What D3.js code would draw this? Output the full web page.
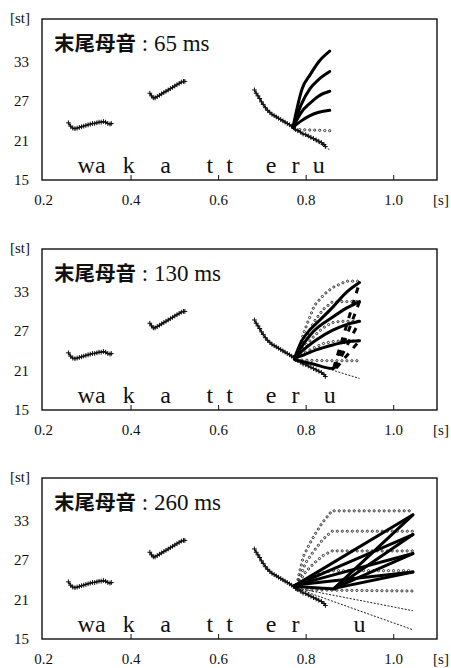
<!DOCTYPE html>
<html>
<head>
<meta charset="utf-8">
<script src="https://cdn.jsdelivr.net/npm/d3@7"></script>
<style>
  body { margin: 0; background: #fff; }
  svg text { fill: #111; }
</style>
</head>
<body>
<div id="chart"></div>
<script>
const width = 451;
const height = 668;

const xTicks = [0.2, 0.4, 0.6, 0.8, 1.0];
const yTicks = [15, 21, 27, 33];
const durations = ["65 ms", "130 ms", "260 ms"];
const phonemes = ["wa", "k", "a", "t", "t", "e", "r", "u"];
const phonemeTimes = [0.311, 0.396, 0.48, 0.581, 0.626, 0.721, 0.777];
const uTimes = [0.83, 0.855, 0.923];

// natural F0 contour (crosses), shared by the three panels
const naturalWa = [[0.258,23.7],[0.263,23.2],[0.268,22.9],[0.273,22.8],[0.278,22.9],[0.283,23.0],[0.288,23.1],[0.293,23.2],[0.298,23.3],[0.303,23.4],[0.308,23.5],[0.313,23.6],[0.318,23.6],[0.323,23.7],[0.328,23.8],[0.333,23.8],[0.338,23.9],[0.343,23.8],[0.348,23.6],[0.353,23.5],[0.356,23.6]];
const naturalA = [[0.444,28.2],[0.448,27.8],[0.452,27.5],[0.456,27.5],[0.461,27.7],[0.466,27.9],[0.471,28.1],[0.476,28.3],[0.481,28.5],[0.486,28.7],[0.491,28.9],[0.496,29.1],[0.501,29.3],[0.506,29.5],[0.511,29.7],[0.516,29.9],[0.521,30.0],[0.524,30.0]];
const naturalEr = [[0.683,28.7],[0.687,28.2],[0.691,27.8],[0.695,27.4],[0.699,26.9],[0.703,26.5],[0.708,26.0],[0.713,25.6],[0.718,25.3],[0.723,25.0],[0.728,24.8],[0.733,24.6],[0.738,24.4],[0.743,24.2],[0.748,24.0],[0.753,23.8],[0.758,23.6],[0.763,23.4],[0.768,23.2],[0.772,23.0]];
const naturalU = [[0.772,23.0],[0.777,22.7],[0.782,22.5],[0.788,22.3],[0.794,22.0],[0.8,21.9],[0.806,21.7],[0.812,21.5],[0.818,21.3],[0.824,21.1],[0.83,20.9],[0.836,20.7],[0.842,20.4],[0.845,20.1]];

// 65 ms
const thick65 = [
  [[0.771,23.0],[0.792,28.9],[0.81,31.0],[0.83,33.0],[0.855,34.6]],
  [[0.771,23.0],[0.79,26.5],[0.81,28.9],[0.83,30.3],[0.855,31.5]],
  [[0.771,23.0],[0.79,25.3],[0.81,26.7],[0.83,27.8],[0.855,28.5]],
  [[0.771,23.0],[0.79,24.0],[0.81,24.8],[0.83,25.3],[0.855,25.6]]
];
const dotted65 = [
  [[0.775,22.7],[0.815,22.6],[0.855,22.5]]
];
const falling65 = [
  [[0.775,22.8],[0.855,19.6]]
];

// 130 ms
const thick130 = [
  [[0.775,23.0],[0.79,25.4],[0.809,27.15],[0.832,28.65],[0.862,30.65],[0.893,32.9],[0.923,34.4]],
  [[0.775,23.0],[0.786,24.15],[0.817,26.9],[0.862,29.15],[0.893,30.5],[0.923,31.5]],
  [[0.775,23.0],[0.786,23.65],[0.824,25.65],[0.862,27.15],[0.893,28.0],[0.923,28.5]],
  [[0.775,23.0],[0.786,23.15],[0.824,24.15],[0.862,24.9],[0.893,25.4],[0.923,25.55]],
  [[0.775,22.65],[0.817,22.0],[0.862,21.3],[0.87,21.9]]
];
const dashed130 = [
  [[0.864,21.4],[0.923,34.4]],
  [[0.866,21.4],[0.923,31.5]],
  [[0.868,21.4],[0.923,28.5]],
  [[0.87,21.4],[0.923,25.55]]
];
const dotted130 = [
  [[0.78,23.3],[0.794,26.4],[0.805,28.4],[0.82,30.9],[0.843,32.65],[0.862,33.65],[0.893,34.6],[0.923,34.6]],
  [[0.78,23.2],[0.8,26.0],[0.82,28.5],[0.84,30.3],[0.86,31.4],[0.88,31.5],[0.923,31.5]],
  [[0.78,23.2],[0.8,24.8],[0.82,26.3],[0.84,27.5],[0.86,28.3],[0.88,28.5],[0.923,28.5]],
  [[0.78,23.0],[0.8,23.8],[0.82,24.5],[0.84,25.1],[0.86,25.4],[0.88,25.5],[0.923,25.5]],
  [[0.78,22.6],[0.85,22.5],[0.923,22.5]]
];
const falling130 = [
  [[0.775,22.8],[0.85,21.3],[0.923,19.8]]
];

// 260 ms
const thick260 = [
  [[0.777,23.2],[1.045,33.9]],
  [[0.777,23.2],[1.045,30.9]],
  [[0.777,23.2],[1.045,28.0]],
  [[0.777,23.2],[1.045,25.2]],
  [[0.777,23.0],[0.867,22.6]],
  [[0.865,22.7],[1.045,33.9]],
  [[0.865,22.7],[1.045,30.9]],
  [[0.865,22.7],[1.045,28.0]],
  [[0.865,22.7],[1.045,25.2]]
];
const dotted260 = [
  [[0.78,23.3],[0.785,24.9],[0.795,27.6],[0.81,29.6],[0.822,31.0],[0.837,32.6],[0.86,34.5],[1.045,34.5]],
  [[0.78,23.3],[0.8,26.6],[0.82,28.5],[0.84,30.2],[0.86,31.4],[1.045,31.4]],
  [[0.78,23.2],[0.8,25.2],[0.82,26.6],[0.84,27.7],[0.86,28.4],[1.045,28.4]],
  [[0.78,23.1],[0.8,23.9],[0.82,24.6],[0.84,25.1],[0.86,25.4],[1.045,25.4]],
  [[0.78,22.5],[0.9,22.4],[1.045,22.3]]
];
const falling260 = [
  [[0.775,22.8],[1.045,19.3]],
  [[0.775,22.8],[1.045,16.4]]
];

const panels = [
  { top: 19, thick: thick65, dashed: [], dotted: dotted65, falling: falling65 },
  { top: 249, thick: thick130, dashed: dashed130, dotted: dotted130, falling: falling130 },
  { top: 478, thick: thick260, dashed: [], dotted: dotted260, falling: falling260 }
];

const boxLeft = 42;
const boxRight = 437;
const boxHeight = 161;

const svg = d3.select("#chart")
  .append("svg")
  .attr("width", width)
  .attr("height", height);

const x = d3.scaleLinear().domain([0.2, 1.1]).range([43, boxRight]);

panels.forEach((p, i) => {
  const y = d3.scaleLinear().domain([15, 39.5]).range([p.top + boxHeight, p.top]);
  const line = d3.line().x(d => x(d[0])).y(d => y(d[1]));
  const g = svg.append("g");

  // frame
  g.append("rect")
    .attr("x", boxLeft)
    .attr("y", p.top)
    .attr("width", boxRight - boxLeft)
    .attr("height", boxHeight)
    .attr("fill", "none")
    .attr("stroke", "#111")
    .attr("stroke-width", 1.4);

  // x axis: inward ticks, labels below
  const xAxis = g.append("g")
    .attr("transform", `translate(0,${p.top + boxHeight})`)
    .call(d3.axisBottom(x).tickValues(xTicks).tickFormat(d3.format(".1f"))
      .tickSizeInner(-5).tickSizeOuter(0).tickPadding(14));
  xAxis.select(".domain").remove();
  xAxis.selectAll(".tick line").attr("stroke", "#111").filter(d => d === 0.2).remove();
  xAxis.selectAll(".tick text")
    .attr("font-family", "Liberation Serif")
    .attr("font-size", 15);

  const yAxis = g.append("g")
    .attr("transform", `translate(${boxLeft},0)`)
    .call(d3.axisLeft(y).tickValues(yTicks).tickSize(0).tickPadding(13));
  yAxis.select(".domain").remove();
  yAxis.selectAll(".tick text")
    .attr("font-family", "Liberation Serif")
    .attr("font-size", 15);

  g.append("text")
    .attr("x", 20).attr("y", p.top + 4)
    .attr("text-anchor", "middle")
    .attr("font-family", "Liberation Serif")
    .attr("font-size", 15)
    .text("[st]");

  g.append("text")
    .attr("x", 441).attr("y", p.top + boxHeight + 25)
    .attr("text-anchor", "middle")
    .attr("font-family", "Liberation Serif")
    .attr("font-size", 15)
    .text("[s]");

  // title
  const title = g.append("text")
    .attr("x", 54).attr("y", p.top + 32);
  title.append("tspan")
    .attr("font-family", "Noto Sans CJK JP")
    .attr("font-weight", "bold")
    .attr("font-size", 20.5)
    .text("末尾母音");
  title.append("tspan")
    .attr("font-family", "Liberation Serif")
    .attr("font-size", 23)
    .attr("xml:space", "preserve")
    .text(" : " + durations[i]);

  // phoneme labels
  const times = phonemeTimes.concat([uTimes[i]]);
  g.selectAll(".ph")
    .data(phonemes)
    .enter().append("text")
    .attr("x", (d, k) => x(times[k]))
    .attr("y", p.top + boxHeight - 7)
    .attr("text-anchor", "middle")
    .attr("font-family", "Liberation Serif")
    .attr("font-size", 24)
    .text(d => d);

  // falling thin dashed targets
  g.selectAll(".fall")
    .data(p.falling)
    .enter().append("path")
    .attr("d", line)
    .attr("fill", "none")
    .attr("stroke", "#222")
    .attr("stroke-width", 1)
    .attr("stroke-dasharray", "2,1.5");

  // dotted targets: small open circles spaced along each contour
  p.dotted.forEach(seg => {
    const path = g.append("path")
      .attr("d", line(seg))
      .attr("fill", "none")
      .attr("stroke", "none");
    const node = path.node();
    const len = node.getTotalLength();
    const pts = d3.range(0, len, 5).map(l => node.getPointAtLength(l));
    g.selectAll(null)
      .data(pts)
      .enter().append("circle")
      .attr("cx", d => d.x)
      .attr("cy", d => d.y)
      .attr("r", 1.1)
      .attr("fill", "none")
      .attr("stroke", "#222")
      .attr("stroke-width", 0.9);
  });

  // natural contour with crosses
  [naturalWa, naturalA, naturalEr, naturalU].forEach(seg => {
    g.append("path")
      .attr("d", line(seg))
      .attr("fill", "none")
      .attr("stroke", "#111")
      .attr("stroke-width", 1.3);
    g.selectAll(null)
      .data(seg)
      .enter().append("path")
      .attr("transform", d => `translate(${x(d[0])},${y(d[1])})`)
      .attr("d", "M-2.4,0H2.4M0,-2.4V2.4")
      .attr("stroke", "#111")
      .attr("stroke-width", 1);
  });

  // thick resynthesised contours
  g.selectAll(".thick")
    .data(p.thick)
    .enter().append("path")
    .attr("d", d3.line().x(d => x(d[0])).y(d => y(d[1])).curve(d3.curveMonotoneX))
    .attr("fill", "none")
    .attr("stroke", "#000")
    .attr("stroke-width", 3)
    .attr("stroke-linejoin", "round")
    .attr("stroke-linecap", "round");

  g.selectAll(".dash")
    .data(p.dashed)
    .enter().append("path")
    .attr("d", line)
    .attr("fill", "none")
    .attr("stroke", "#000")
    .attr("stroke-width", 3)
    .attr("stroke-dasharray", "6,7");
});
</script>
</body>
</html>
